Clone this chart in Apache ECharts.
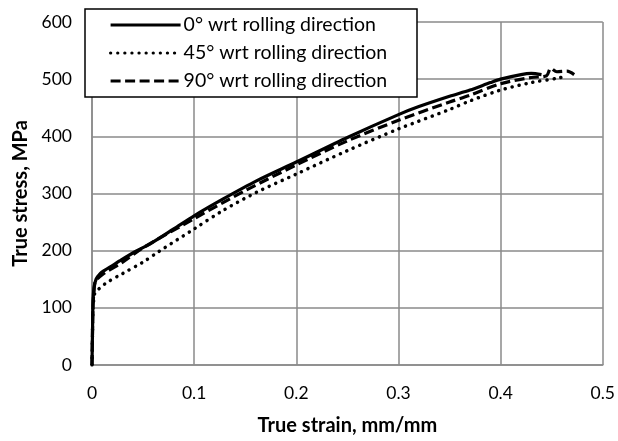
<!DOCTYPE html>
<html>
<head>
<meta charset="utf-8">
<script src="https://cdn.jsdelivr.net/npm/echarts@6/dist/echarts.min.js"></script>
<style>html,body{margin:0;padding:0;background:#fff}#c{width:618px;height:441px}</style>
</head>
<body>
<div id="c"></div>
<script>
var seriesNames = ['0° wrt rolling direction', '45° wrt rolling direction', '90° wrt rolling direction'];
var strain0 = [0, 0.0005, 0.001, 0.002, 0.004, 0.008, 0.0127, 0.02, 0.027, 0.043, 0.057, 0.08, 0.1, 0.128, 0.161, 0.2, 0.25, 0.3, 0.32, 0.35, 0.37, 0.39, 0.4, 0.42, 0.43, 0.44];
var stress0 = [0, 60, 110, 135, 150, 160, 166, 174, 182, 199, 212, 238, 261, 290, 322, 355, 398, 438, 452, 470, 481, 494, 500, 508, 510, 508];
var strain45 = [0, 0.0005, 0.001, 0.002, 0.003, 0.0127, 0.03, 0.05, 0.065, 0.1, 0.128, 0.161, 0.2, 0.25, 0.3, 0.35, 0.37, 0.4, 0.43, 0.457, 0.462];
var stress45 = [0, 55, 100, 118, 126, 142, 160, 180, 198, 238, 270, 302, 334, 375, 413, 447, 462, 481, 494, 502, 505];
var strain90 = [0, 0.0005, 0.001, 0.002, 0.003, 0.01, 0.03, 0.05, 0.1, 0.15, 0.2, 0.25, 0.3, 0.35, 0.37, 0.4, 0.43, 0.445, 0.449, 0.455, 0.465, 0.472];
var stress90 = [0, 58, 105, 130, 145, 158, 180, 205, 256, 305, 350, 392, 428, 460, 472, 492, 503, 506, 519, 513, 514, 508];
var xTicks = [0, 0.1, 0.2, 0.3, 0.4, 0.5];
var yTicks = [0, 100, 200, 300, 400, 500, 600];

function pairs(xs, ys) { return xs.map(function (x, i) { return [x, ys[i]]; }); }

var FONT = 'Lato';
var gridColor = '#8a8a8a';
var chart = echarts.init(document.getElementById('c'), null, { renderer: 'canvas' });
var styles = [
  { type: 'solid', width: 3.2, cap: 'butt' },
  { type: [0.1, 7], width: 3.5, cap: 'round' },
  { type: [10, 4.5], width: 3.2, cap: 'butt' }
];
var datas = [pairs(strain0, stress0), pairs(strain45, stress45), pairs(strain90, stress90)];
chart.setOption({
  animation: false,
  backgroundColor: '#fff',
  textStyle: { fontFamily: FONT },
  grid: { left: 92, top: 22, right: 14, bottom: 73, containLabel: false },
  xAxis: {
    type: 'value', min: xTicks[0], max: xTicks[xTicks.length - 1], interval: 0.1,
    name: 'True strain, mm/mm', nameLocation: 'middle', nameGap: 51,
    nameTextStyle: { fontFamily: FONT, fontWeight: 'bold', fontSize: 20, color: '#000' },
    axisLine: { show: true, onZero: false, lineStyle: { color: gridColor, width: 1.5 } },
    axisTick: { show: false },
    axisLabel: { fontFamily: FONT, fontSize: 17.5, color: '#000', margin: 19, formatter: function (v) { return String(Math.round(v * 10) / 10); } },
    splitLine: { show: true, lineStyle: { color: gridColor, width: 1.5 } }
  },
  yAxis: {
    type: 'value', min: yTicks[0], max: yTicks[yTicks.length - 1], interval: 100,
    name: 'True stress, MPa', nameLocation: 'middle', nameGap: 61,
    nameTextStyle: { fontFamily: FONT, fontWeight: 'bold', fontSize: 20, color: '#000' },
    axisLine: { show: true, lineStyle: { color: gridColor, width: 1.5 } },
    axisTick: { show: false },
    axisLabel: { fontFamily: FONT, fontSize: 17.5, color: '#000', margin: 20 },
    splitLine: { show: true, lineStyle: { color: gridColor, width: 1.5 } }
  },
  graphic: [{
    type: 'rect', z: 100, zlevel: 0,
    shape: { x: 85, y: 9, width: 332, height: 88 },
    style: { fill: '#fff', stroke: '#000', lineWidth: 1.5 }
  }],
  legend: {
    orient: 'vertical', left: 85, top: 9, z: 200,
    padding: [6, 10, 8, 24],
    itemWidth: 70, itemHeight: 16, itemGap: 8,
    itemStyle: { opacity: 0 },
    lineStyle: { width: 3.2 },
    textStyle: { fontFamily: FONT, fontSize: 19.5, color: '#000', padding: [0, 0, 0, -2] },
    data: seriesNames
  },
  series: seriesNames.map(function (n, i) {
    return {
      name: n, type: 'line', data: datas[i], showSymbol: false, symbol: 'none',
      smooth: 0.3, z: 3 - i,
      lineStyle: { color: '#000', width: styles[i].width, type: styles[i].type, cap: styles[i].cap },
      itemStyle: { color: '#000' }
    };
  })
});
</script>
</body>
</html>
